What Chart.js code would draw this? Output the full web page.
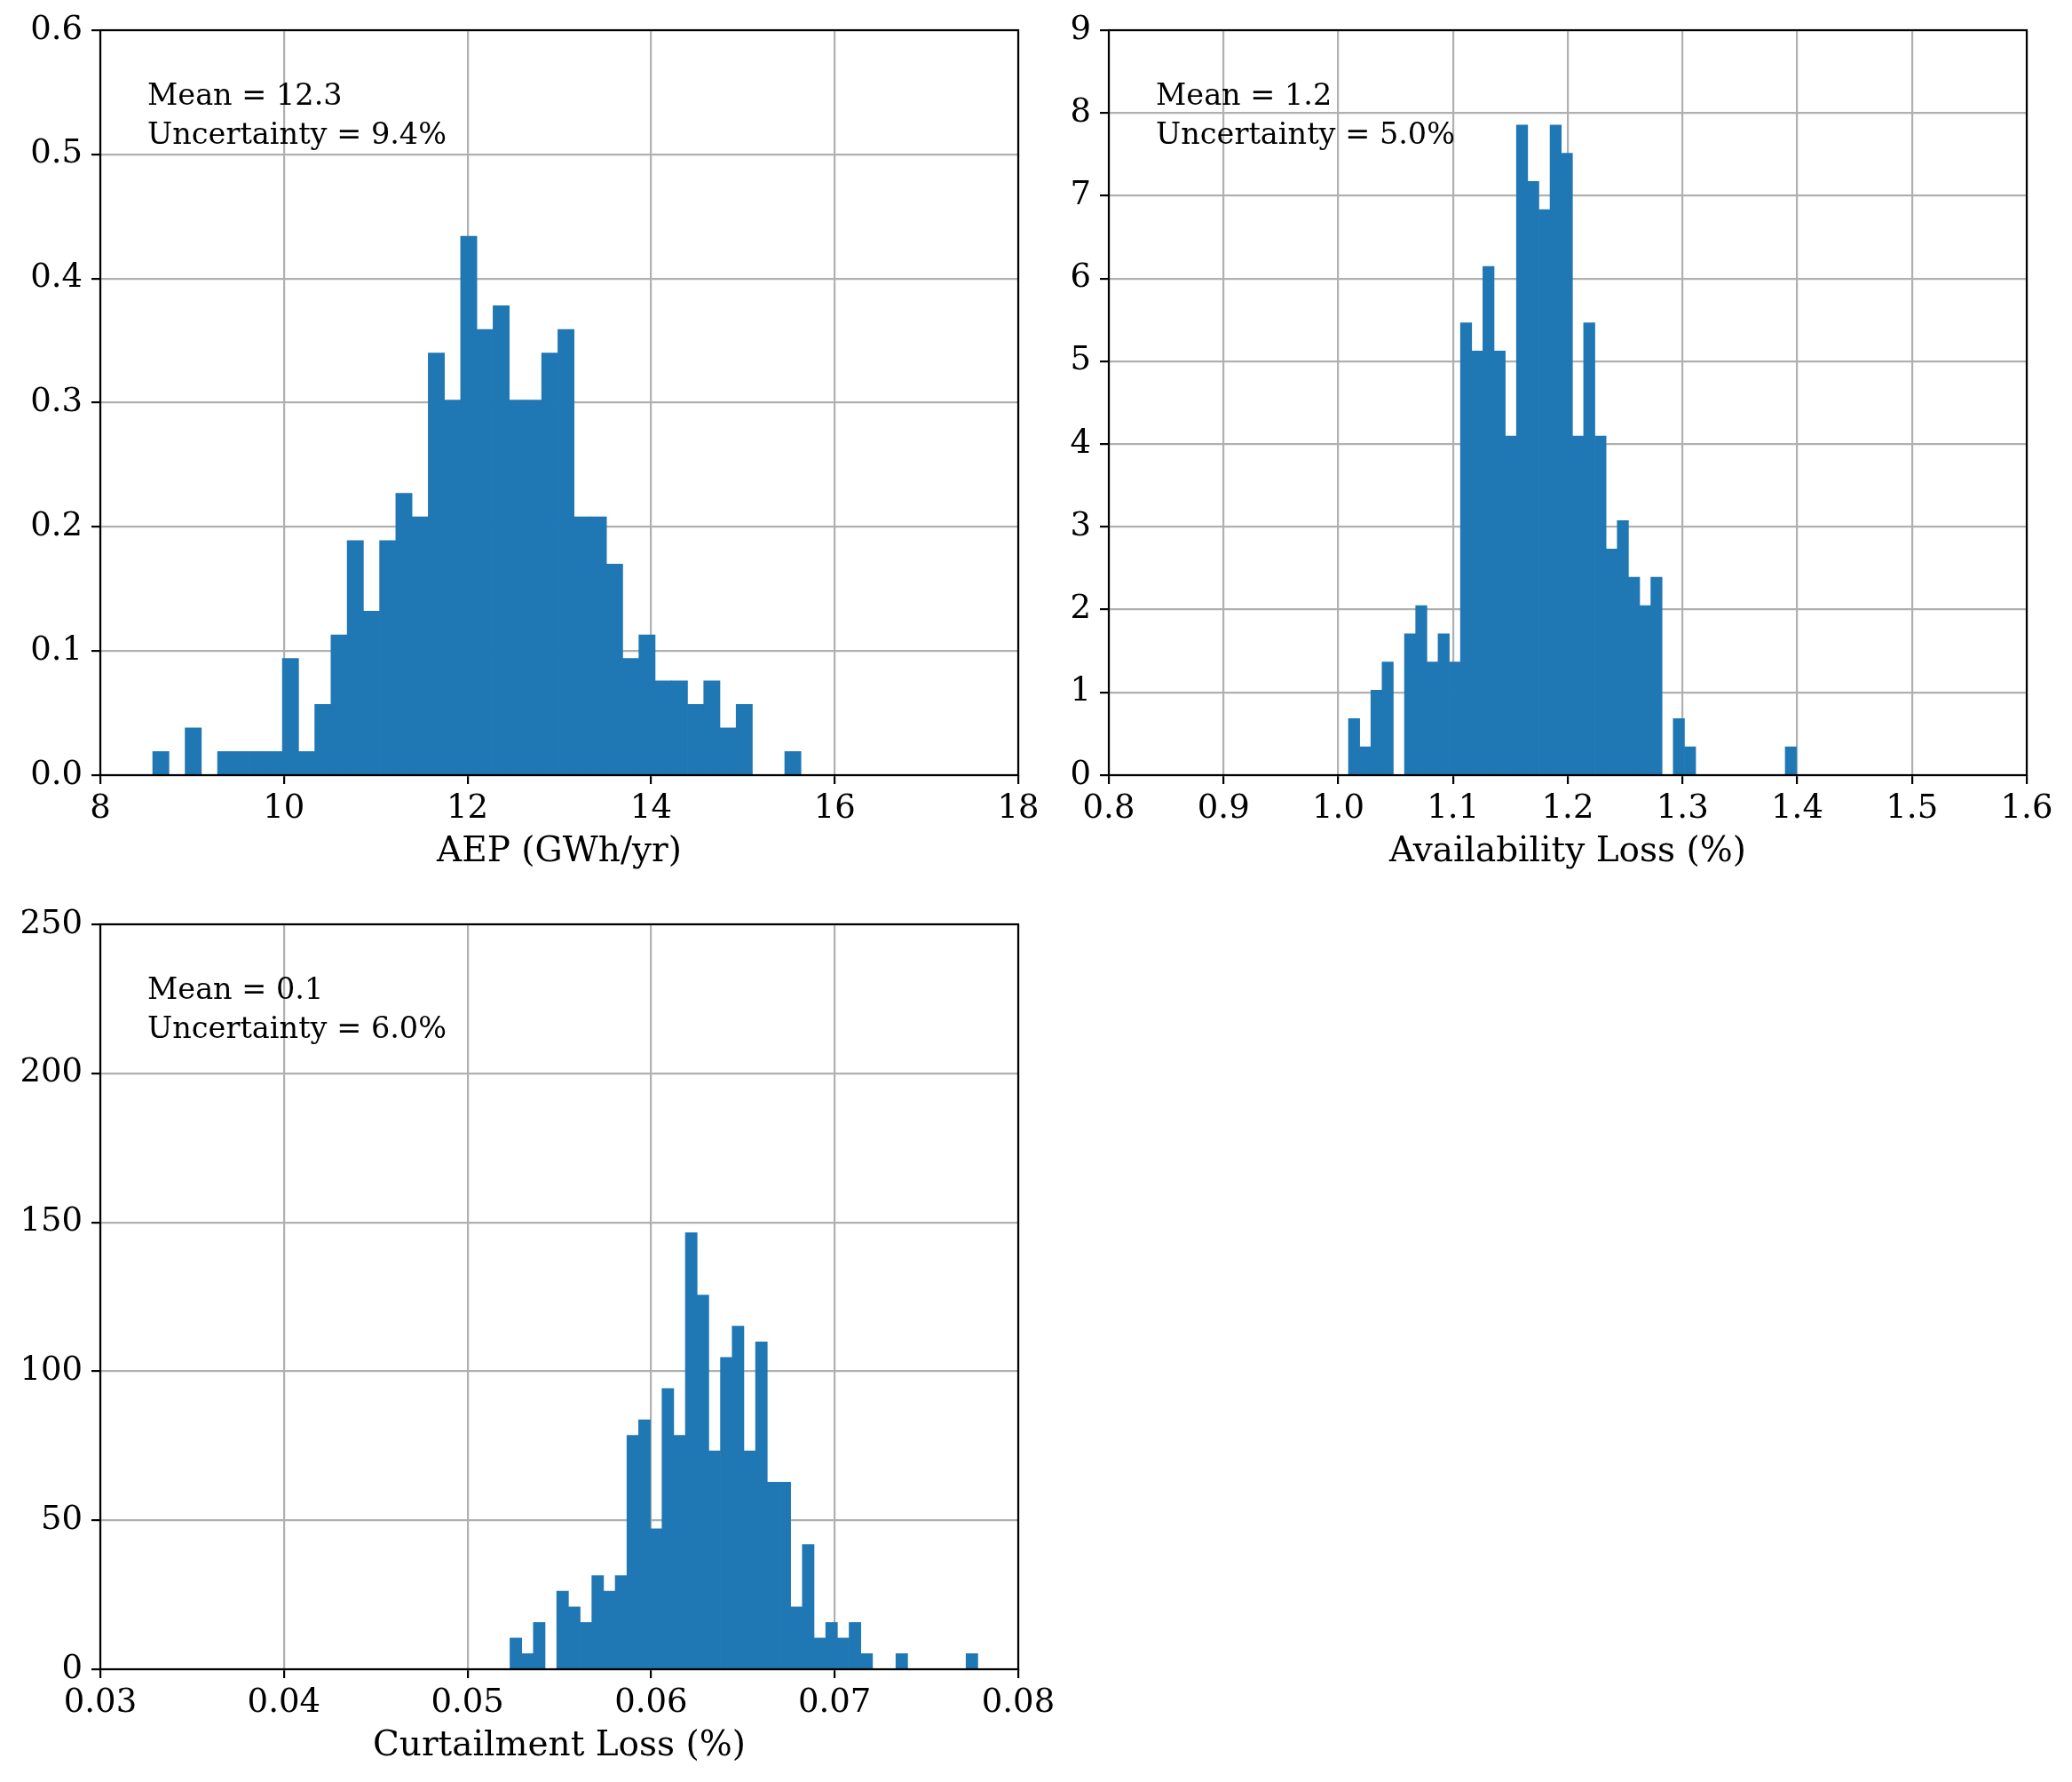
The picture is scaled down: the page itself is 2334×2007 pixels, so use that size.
<!DOCTYPE html>
<html>
<head>
<meta charset="utf-8">
<script src="https://cdn.jsdelivr.net/npm/chart.js@4.4.0/dist/chart.umd.min.js"></script>
<style>
  html, body { margin: 0; padding: 0; background: #fff; }
  #fig { position: relative; width: 2334px; height: 2007px; background: #fff; }
  canvas { position: absolute; }
</style>
</head>
<body>
<div id="fig">
  <canvas id="aep" width="1200" height="1000" style="left:0;top:0"></canvas>
  <canvas id="avail" width="1167" height="1000" style="left:1167px;top:0"></canvas>
  <canvas id="curt" width="1200" height="1000" style="left:0;top:1007px"></canvas>
</div>
<script>
// histogram bins (40 per panel), heights are densities
const aepBinStart = 8.571, aepBinWidth = 0.17655;
const aepDensity = [0.019, 0, 0.038, 0, 0.019, 0.019, 0.019, 0.019, 0.094, 0.019,
  0.057, 0.113, 0.189, 0.132, 0.189, 0.227, 0.208, 0.340, 0.302, 0.434,
  0.359, 0.378, 0.302, 0.302, 0.340, 0.359, 0.208, 0.208, 0.170, 0.094,
  0.113, 0.076, 0.076, 0.057, 0.076, 0.038, 0.057, 0, 0, 0.019];

const availBinStart = 1.0089, availBinWidth = 0.00976;
const availDensity = [0.683, 0.342, 1.025, 1.366, 0, 1.708, 2.049, 1.366, 1.708, 1.366,
  5.464, 5.123, 6.147, 5.123, 4.098, 7.855, 7.172, 6.831, 7.855, 7.514,
  4.098, 5.464, 4.098, 2.732, 3.074, 2.391, 2.049, 2.391, 0, 0.683,
  0.342, 0, 0, 0, 0, 0, 0, 0, 0, 0.342];

const curtBinStart = 0.052315, curtBinWidth = 0.000637;
const curtDensity = [10.47, 5.23, 15.70, 0, 26.17, 20.93, 15.70, 31.40, 26.17, 31.40,
  78.50, 83.73, 47.10, 94.19, 78.50, 146.52, 125.59, 73.26, 104.66, 115.13,
  73.26, 109.89, 62.80, 62.80, 20.93, 41.86, 10.47, 15.70, 10.47, 15.70,
  5.23, 0, 0, 5.23, 0, 0, 0, 0, 0, 5.23];

const statLines = {
  aep: ['Mean = 12.3', 'Uncertainty = 9.4%'],
  avail: ['Mean = 1.2', 'Uncertainty = 5.0%'],
  curt: ['Mean = 0.1', 'Uncertainty = 6.0%']
};

const FONT = '"DejaVu Serif", serif';
const barColor = '#1f77b4';

const spines = {
  id: 'spines',
  afterDatasetsDraw(chart) {
    const { ctx, chartArea: a } = chart;
    ctx.save();
    ctx.strokeStyle = '#000';
    ctx.lineWidth = 2.2;
    ctx.strokeRect(a.left, a.top, a.right - a.left, a.bottom - a.top);
    ctx.restore();
  }
};

const statsText = {
  id: 'statsText',
  afterDraw(chart, args, opts) {
    if (!opts.lines) return;
    const { ctx, chartArea: a } = chart;
    ctx.save();
    ctx.font = '33.5px ' + FONT;
    ctx.fillStyle = '#000';
    ctx.textBaseline = 'alphabetic';
    opts.lines.forEach((t, i) => ctx.fillText(t, a.left + 53, a.top + 84 + i * 44));
    ctx.restore();
  }
};

function histPanel(id, cfg) {
  const points = cfg.density.map((d, i) => ({ x: cfg.binStart + (i + 0.5) * cfg.binWidth, y: d }));
  const tickFont = { family: FONT, size: 37 };
  return new Chart(document.getElementById(id), {
    type: 'bar',
    data: {
      datasets: [{
        data: points,
        backgroundColor: barColor,
        borderWidth: 0,
        barPercentage: 1,
        categoryPercentage: 1
      }]
    },
    options: {
      responsive: false,
      animation: false,
      devicePixelRatio: 1,
      events: [],
      layout: { padding: { top: 34, right: cfg.padRight, left: 0, bottom: 0 } },
      plugins: {
        legend: { display: false },
        tooltip: { enabled: false },
        statsText: { lines: cfg.lines }
      },
      scales: {
        x: {
          type: 'linear',
          min: cfg.xMin, max: cfg.xMax,
          offset: false,
          ticks: { stepSize: cfg.xStep, callback: cfg.xFmt, font: tickFont, color: '#000',
                   padding: 6, maxRotation: 0, autoSkip: false },
          grid: { color: '#b0b0b0', lineWidth: 2.2, offset: false,
                  tickColor: '#000', tickWidth: 2.2, tickLength: 10 },
          border: { display: false },
          title: { display: true, text: cfg.xLabel, color: '#000',
                   font: { family: FONT, size: 39 }, padding: { top: 0, bottom: 17 } },
          afterFit: s => { s.height = 127; }
        },
        y: {
          min: cfg.yMin, max: cfg.yMax,
          ticks: { stepSize: cfg.yStep, callback: cfg.yFmt, font: tickFont, color: '#000', padding: 10 },
          grid: { color: '#b0b0b0', lineWidth: 2.2,
                  tickColor: '#000', tickWidth: 2.2, tickLength: 10 },
          border: { display: false },
          afterFit: s => { s.width = cfg.yWidth; }
        }
      }
    },
    plugins: [spines, statsText]
  });
}

histPanel('aep', {
  density: aepDensity, binStart: aepBinStart, binWidth: aepBinWidth,
  xMin: 8, xMax: 18, xStep: 2, xFmt: v => v.toFixed(0),
  yMin: 0, yMax: 0.6, yStep: 0.1, yFmt: v => v.toFixed(1),
  xLabel: 'AEP (GWh/yr)', lines: statLines.aep, yWidth: 113, padRight: 53
});

histPanel('avail', {
  density: availDensity, binStart: availBinStart, binWidth: availBinWidth,
  xMin: 0.8, xMax: 1.6, xStep: 0.1, xFmt: v => v.toFixed(1),
  yMin: 0, yMax: 9, yStep: 1, yFmt: v => v.toFixed(0),
  xLabel: 'Availability Loss (%)', lines: statLines.avail, yWidth: 82, padRight: 51
});

histPanel('curt', {
  density: curtDensity, binStart: curtBinStart, binWidth: curtBinWidth,
  xMin: 0.03, xMax: 0.08, xStep: 0.01, xFmt: v => v.toFixed(2),
  yMin: 0, yMax: 250, yStep: 50, yFmt: v => v.toFixed(0),
  xLabel: 'Curtailment Loss (%)', lines: statLines.curt, yWidth: 113, padRight: 53
});
</script>
</body>
</html>
